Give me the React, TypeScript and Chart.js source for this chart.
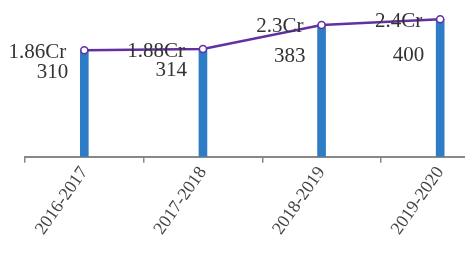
import React, { useEffect, useRef } from "react";
import { Chart, registerables } from "chart.js";

Chart.register(...registerables);

const categories = ["2016-2017", "2017-2018", "2018-2019", "2019-2020"];
const counts = [310, 314, 383, 400];
const crores = [1.86, 1.88, 2.3, 2.4];

const countLabelDy = [22, 21, 32, 36];

const labelPlugin = {
  id: "valueLabels",
  afterDatasetsDraw(chart: any) {
    const ctx = chart.ctx;
    const meta = chart.getDatasetMeta(1);
    ctx.save();
    ctx.font = '21px "Liberation Serif", "DejaVu Serif", serif';
    ctx.fillStyle = "#333";
    ctx.textAlign = "right";
    ctx.textBaseline = "middle";
    meta.data.forEach((pt: any, i: number) => {
      ctx.fillText(`${crores[i]}Cr`, pt.x - 18, pt.y + 2);
      ctx.fillText(`${counts[i]}`, pt.x - 16, pt.y + countLabelDy[i]);
    });
    ctx.restore();
  },
};

export default function App() {
  const ref = useRef<HTMLCanvasElement | null>(null);
  useEffect(() => {
    document.body.style.overflow = "hidden";
    const chart = new Chart(ref.current as HTMLCanvasElement, {
      type: "bar",
      data: {
        labels: categories,
        datasets: [
          {
            type: "bar",
            data: counts,
            backgroundColor: "#2f7cc6",
            barThickness: 8,
            yAxisID: "y",
            order: 2,
          },
          {
            type: "line",
            data: crores,
            borderColor: "#6230a0",
            borderWidth: 2.5,
            pointRadius: 3.5,
            pointBackgroundColor: "#ffffff",
            pointBorderColor: "#6230a0",
            pointBorderWidth: 1.5,
            yAxisID: "y2",
            order: 1,
            clip: false,
          } as any,
        ],
      },
      options: {
        animation: false,
        responsive: false,
        layout: { padding: { left: 25, right: 0, top: 0, bottom: 17 } },
        plugins: { legend: { display: false }, tooltip: { enabled: false } },
        scales: {
          x: {
            offset: true,
            grid: {
              offset: true,
              drawOnChartArea: false,
              drawTicks: true,
              tickLength: 6,
              color: "#888",
              lineWidth: 1.5,
            },
            border: { display: true, color: "#888", width: 2 },
            ticks: {
              minRotation: 55,
              maxRotation: 55,
              padding: 0,
              color: "#444",
              font: { family: '"Liberation Serif", "DejaVu Serif", serif', size: 18 },
            },
          },
          y: { display: false, min: 0, max: 440 },
          y2: { display: false, min: 0, max: 2.64 },
        },
      },
      plugins: [labelPlugin],
    });
    return () => chart.destroy();
  }, []);
  return (
    <div style={{ position: "fixed", left: 0, top: 0, width: 505, height: 256 }}>
      <canvas ref={ref} width={505} height={256} />
    </div>
  );
}
